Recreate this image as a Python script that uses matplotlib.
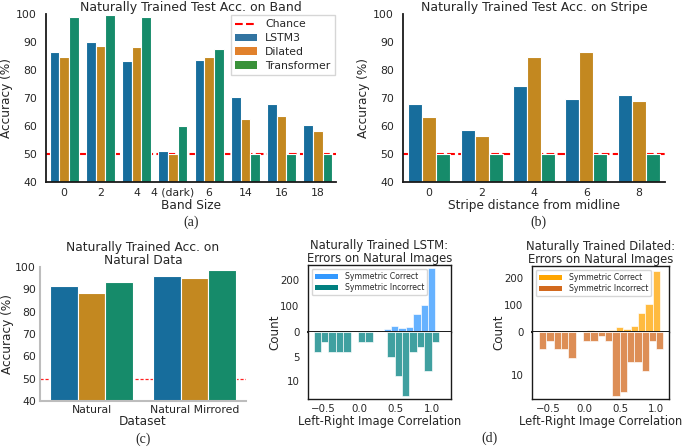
import matplotlib
matplotlib.use("Agg")
import matplotlib.pyplot as plt
from matplotlib.patches import Patch
from matplotlib.lines import Line2D
import numpy as np

# ---------------- data ----------------
models = ["LSTM3", "Dilated", "Transformer"]

band_labels = ["0", "2", "4", "4 (dark)", "6", "14", "16", "18"]
band_lstm = [86.3, 90.1, 83.3, 51.2, 83.6, 70.5, 67.8, 60.2]
band_dilated = [84.5, 88.6, 88.3, 49.9, 84.8, 62.4, 63.4, 58.1]
band_transformer = [99.0, 99.8, 99.0, 60.0, 87.4, 50.0, 50.0, 50.0]

stripe_labels = ["0", "2", "4", "6", "8"]
stripe_lstm = [68.0, 58.4, 74.2, 69.7, 71.0]
stripe_dilated = [63.2, 56.6, 84.5, 86.6, 69.1]
stripe_transformer = [50.0, 50.0, 50.0, 50.0, 50.0]

natural_labels = ["Natural", "Natural Mirrored"]
natural_lstm = [91.3, 96.1]
natural_dilated = [88.3, 95.2]
natural_transformer = [93.4, 98.5]

chance = 50

# histogram bins (centers) and counts
hist_upper_centers = [0.083, 0.185, 0.287, 0.389, 0.491, 0.593, 0.695, 0.797, 0.899, 1.001]
hist_lower_centers = [-0.58, -0.478, -0.376, -0.274, -0.172, -0.07, 0.032, 0.134, 0.236,
                      0.338, 0.44, 0.542, 0.644, 0.746, 0.848, 0.95, 1.052]
lstm_correct = [3, 4, 4, 10, 25, 16, 19, 70, 104, 245]
lstm_incorrect = [4, 2, 4, 4, 4, 0, 2, 2, 0, 0, 5, 9, 13, 4, 3, 8, 2]
dilated_correct = [6, 1, 2, 9, 17, 11, 23, 70, 105, 228]
dilated_incorrect = [4, 2, 4, 4, 6, 0, 2, 2, 1, 2, 15, 14, 7, 7, 9, 2, 4]

# ---------------- style ----------------
TXT = "#262626"
plt.rcParams.update({
    "font.family": ["DejaVu Sans"],
    "text.color": TXT,
    "axes.labelcolor": TXT,
    "xtick.color": TXT,
    "ytick.color": TXT,
})
bar_colors = ["#176d9c", "#c38820", "#168b6a"]
legend_colors = ["#3274a1", "#e1812c", "#3a923a"]

W, H = 685, 447
fig = plt.figure(figsize=(W / 100, H / 100), dpi=100)


def rect(x0, y0, x1, y1):
    return [x0 / W, 1 - y1 / H, (x1 - x0) / W, (y1 - y0) / H]


def grouped(ax, labels, series, tick_fs=7.8):
    x = np.arange(len(labels))
    w = 0.8 / 3
    for i, (vals, c) in enumerate(zip(series, bar_colors)):
        ax.bar(x + (i - 1) * w, vals, w, color=c, edgecolor="white",
               linewidth=0.8, zorder=2)
    ax.set_xticks(x)
    ax.set_xticklabels(labels)
    ax.set_xlim(-0.5, len(labels) - 0.5)
    ax.set_ylim(40, 100)
    ax.set_yticks([40, 50, 60, 70, 80, 90, 100])
    ax.tick_params(length=0, labelsize=tick_fs)
    for s in ["top", "right"]:
        ax.spines[s].set_visible(False)


# ---------------- (a) ----------------
axa = fig.add_axes(rect(46, 14, 336, 182))
axa.axhline(chance, color="red", ls="--", lw=1.5, zorder=1)
grouped(axa, band_labels, [band_lstm, band_dilated, band_transformer])
for s in ["left", "bottom"]:
    axa.spines[s].set_color("#1a1a1a")
    axa.spines[s].set_linewidth(1.3)
axa.tick_params(axis="y", pad=6.5)
axa.tick_params(axis="x", pad=4)
axa.set_title("Naturally Trained Test Acc. on Band", fontsize=9, pad=2.5)
axa.set_ylabel("Accuracy (%)", fontsize=8.7, labelpad=2)
axa.set_xlabel("Band Size", fontsize=8.7, labelpad=1)
handles = [Line2D([0], [0], color="red", ls="--", lw=1.5)] + \
          [Patch(facecolor=c) for c in legend_colors]
axa.legend(handles, ["Chance"] + models, loc="upper right", fontsize=7.8,
           frameon=True, edgecolor="#cccccc", fancybox=False,
           borderaxespad=0.1, handlelength=2.0, labelspacing=0.35)

# ---------------- (b) ----------------
axb = fig.add_axes(rect(403, 14, 665, 182))
axb.axhline(chance, color="red", ls="--", lw=1.5, zorder=1)
grouped(axb, stripe_labels, [stripe_lstm, stripe_dilated, stripe_transformer])
for s in ["left", "bottom"]:
    axb.spines[s].set_color("#1a1a1a")
    axb.spines[s].set_linewidth(1.3)
axb.tick_params(axis="y", pad=6.5)
axb.tick_params(axis="x", pad=4)
axb.set_title("Naturally Trained Test Acc. on Stripe", fontsize=9, pad=2.5)
axb.set_ylabel("Accuracy (%)", fontsize=8.7, labelpad=2)
axb.set_xlabel("Stripe distance from midline", fontsize=8.7, labelpad=1)

# ---------------- (c) ----------------
axc = fig.add_axes(rect(40, 267, 246, 401))
axc.axhline(chance, color="#ff2020", ls=(0, (2.5, 1.5)), lw=0.9, zorder=1)
grouped(axc, natural_labels, [natural_lstm, natural_dilated, natural_transformer])
for s in ["left", "bottom"]:
    axc.spines[s].set_color("#bdbdbd")
    axc.spines[s].set_linewidth(1.5)
axc.tick_params(axis="y", pad=3)
axc.tick_params(axis="x", pad=3)
axc.set_title("Naturally Trained Acc. on\nNatural Data", fontsize=8.8, pad=2,
              linespacing=1.0)
axc.set_ylabel("Accuracy (%)", fontsize=8.7, labelpad=1)
axc.set_xlabel("Dataset", fontsize=8.7, labelpad=0)


# ---------------- (d) ----------------
def hist_panel(x0, x1, ytop, yzero, ybot, correct, incorrect, c_col, i_col,
               title, xlim, uylim, lylim, lyticks):
    axu = fig.add_axes(rect(x0, ytop, x1, yzero))
    axl = fig.add_axes(rect(x0, yzero, x1, ybot))
    bw = 0.102
    axu.bar(hist_upper_centers, correct, width=bw, color=c_col, alpha=0.75,
            edgecolor="white", linewidth=0.6)
    axl.bar(hist_lower_centers, incorrect, width=bw, color=i_col, alpha=0.75,
            edgecolor="white", linewidth=0.6)
    for ax in (axu, axl):
        ax.set_xlim(*xlim)
        ax.tick_params(length=0, labelsize=7.4)
        ax.tick_params(axis="y", pad=6)
        for s in ax.spines.values():
            s.set_color("#1a1a1a")
            s.set_linewidth(1.0)
    axu.set_ylim(0, uylim)
    axl.set_ylim(lylim, 0)
    axu.set_yticks([0, 100, 200])
    axl.set_yticks(lyticks)
    axu.set_xticks([])
    axl.set_xticks([-0.5, 0.0, 0.5, 1.0])
    axl.tick_params(axis="x", pad=3.5)
    axu.spines["bottom"].set_linewidth(1.4)
    axl.spines["top"].set_visible(False)
    axu.set_title(title, fontsize=8.4, pad=2, linespacing=1.0)
    axl.set_xlabel("Left-Right Image Correlation", fontsize=8.3, labelpad=1)
    axu.legend([Patch(facecolor=c_col), Patch(facecolor=i_col)],
               ["Symmetric Correct", "Symmetric Incorrect"], loc="upper left",
               fontsize=5.6, frameon=True, edgecolor="#cccccc", fancybox=True,
               borderaxespad=0.5, handlelength=3.0, labelspacing=0.3)
    return axu, axl


hist_panel(308, 451, 265, 332, 399, lstm_correct, lstm_incorrect,
           "#3399ff", "#008080",
           "Naturally Trained LSTM:\nErrors on Natural Images",
           (-0.71, 1.27), 258, 13.6, [5, 10])
fig.text(275 / W, 1 - 332 / H, "Count", rotation=90, ha="center", va="center",
         fontsize=8.6)
hist_panel(532, 669, 266, 332, 399, dilated_correct, dilated_incorrect,
           "#ffa500", "#d2691e",
           "Naturally Trained Dilated:\nErrors on Natural Images",
           (-0.73, 1.18), 245, 15.6, [10])
fig.text(499 / W, 1 - 332 / H, "Count", rotation=90, ha="center", va="center",
         fontsize=8.6)

# ---------------- panel letters ----------------
for lbl, x, y in [("(a)", 191, 222), ("(b)", 538, 222), ("(c)", 143, 439),
                  ("(d)", 490, 438)]:
    fig.text(x / W, 1 - y / H, lbl, ha="center", va="center",
             fontsize=10, family="Liberation Serif")

fig.savefig("out.png", dpi=100)
